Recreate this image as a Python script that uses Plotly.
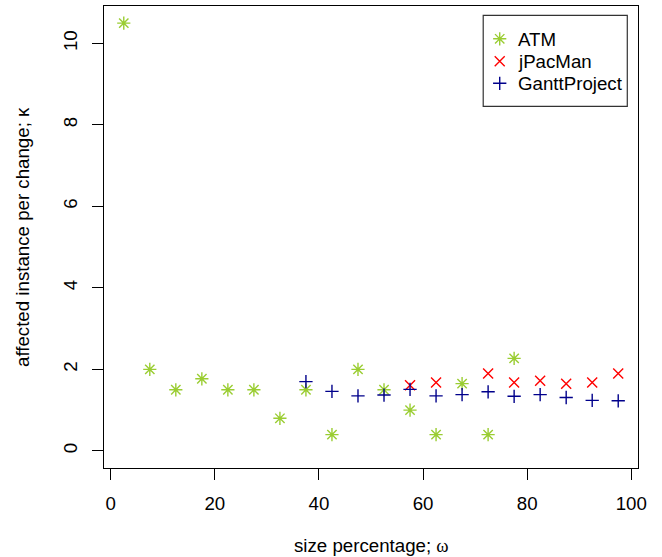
import plotly.graph_objects as go

atm_x = [2.5, 7.5, 12.5, 17.5, 22.5, 27.5, 32.5, 37.5, 42.5, 47.5, 52.5, 57.5, 62.5, 67.5, 72.5, 77.5]
atm_y = [10.5, 2.0, 1.5, 1.77, 1.5, 1.5, 0.8, 1.5, 0.4, 2.0, 1.5, 1.0, 0.4, 1.65, 0.4, 2.27]

jpac_x = [57.5, 62.5, 72.5, 77.5, 82.5, 87.5, 92.5, 97.5]
jpac_y = [1.61, 1.68, 1.9, 1.68, 1.72, 1.65, 1.68, 1.9]

gantt_x = [37.5, 42.5, 47.5, 52.5, 57.5, 62.5, 67.5, 72.5, 77.5, 82.5, 87.5, 92.5, 97.5]
gantt_y = [1.7, 1.46, 1.35, 1.37, 1.51, 1.35, 1.38, 1.45, 1.34, 1.38, 1.31, 1.24, 1.23]

x_ticks = [0, 20, 40, 60, 80, 100]
y_ticks = [0, 2, 4, 6, 8, 10]

series_names = ["ATM", "jPacMan", "GanttProject"]
series_colors = ["#9ACD32", "#FF0000", "#00008B"]
series_symbols = ["asterisk-open", "x-thin-open", "cross-thin-open"]
series_sizes = [11, 10, 9.5]

FONT = "Liberation Sans, Arial, Helvetica, sans-serif"
FS = 18.7

# plot box in pixels
L, R, T, B = 104, 637.7, 5.7, 467.7
W, H = 662, 557

fig = go.Figure()
for xs, ys, name, col, sym, sz in zip([atm_x, jpac_x, gantt_x], [atm_y, jpac_y, gantt_y],
                                      series_names, series_colors, series_symbols, series_sizes):
    fig.add_trace(go.Scatter(x=xs, y=ys, mode="markers", name=name, showlegend=False,
                             marker=dict(symbol=sym, size=sz, color=col,
                                         line=dict(color=col, width=1.4))))

# manual legend (R style) on an overlay axis measured in pixels
leg_left, leg_right, leg_top, leg_bottom = 483, 627, 15, 106
leg_rows = [38.5, 61, 83]
leg_marker_x = 499.5
leg_text_x = 516
for i, (name, col, sym, sz) in enumerate(zip(series_names, series_colors, series_symbols, series_sizes)):
    fig.add_trace(go.Scatter(x=[leg_marker_x], y=[leg_rows[i]], mode="markers", xaxis="x2", yaxis="y2",
                             showlegend=False, hoverinfo="skip",
                             marker=dict(symbol=sym, size=sz, color=col, line=dict(color=col, width=1.4))))
    fig.add_annotation(x=leg_text_x, y=leg_rows[i] + 0.5, xref="x2", yref="y2", text=name,
                       showarrow=False, xanchor="left", yanchor="middle",
                       font=dict(family=FONT, size=FS, color="black"))
fig.add_shape(type="rect", x0=leg_left, x1=leg_right, y0=leg_top, y1=leg_bottom,
              xref="x2", yref="y2", line=dict(color="#333333", width=1.2), fillcolor="rgba(0,0,0,0)")

axis_common = dict(showgrid=False, zeroline=False, showline=True, mirror=True,
                   linecolor="black", linewidth=1, ticks="outside", ticklen=11,
                   tickcolor="black", tickwidth=1,
                   tickfont=dict(family=FONT, size=FS, color="black"))

fig.update_layout(
    width=W, height=H,
    margin=dict(l=L, r=W - R, t=T, b=H - B),
    plot_bgcolor="white", paper_bgcolor="white",
    font=dict(family=FONT, size=FS, color="black"),
    xaxis=dict(range=[-1.3, 101.3], tickvals=x_ticks, ticklabelstandoff=8, **axis_common),
    yaxis=dict(range=[-0.42, 10.92], tickvals=y_ticks, tickangle=-90, ticklabelstandoff=8, **axis_common),
    xaxis2=dict(overlaying="x", range=[L, R], visible=False, fixedrange=True),
    yaxis2=dict(overlaying="y", range=[B, T], visible=False, fixedrange=True),
    showlegend=False,
    annotations=list(fig.layout.annotations) + [
        dict(text='size percentage; <span style="font-family:Liberation Serif, DejaVu Serif, serif">ω</span>',
             xref="paper", yref="paper", x=0.5, y=0, yshift=-(545 - B), xanchor="center",
             yanchor="middle", showarrow=False, font=dict(family=FONT, size=FS, color="black")),
        dict(text="affected instance per change; κ", xref="paper", yref="paper", x=0, y=0.5,
             xshift=-(L - 22), xanchor="center", yanchor="middle", textangle=-90,
             showarrow=False, font=dict(family=FONT, size=FS, color="black")),
    ],
)

fig.write_html("out.html", config={"displayModeBar": False},
               post_script="document.body.style.margin='0';")
